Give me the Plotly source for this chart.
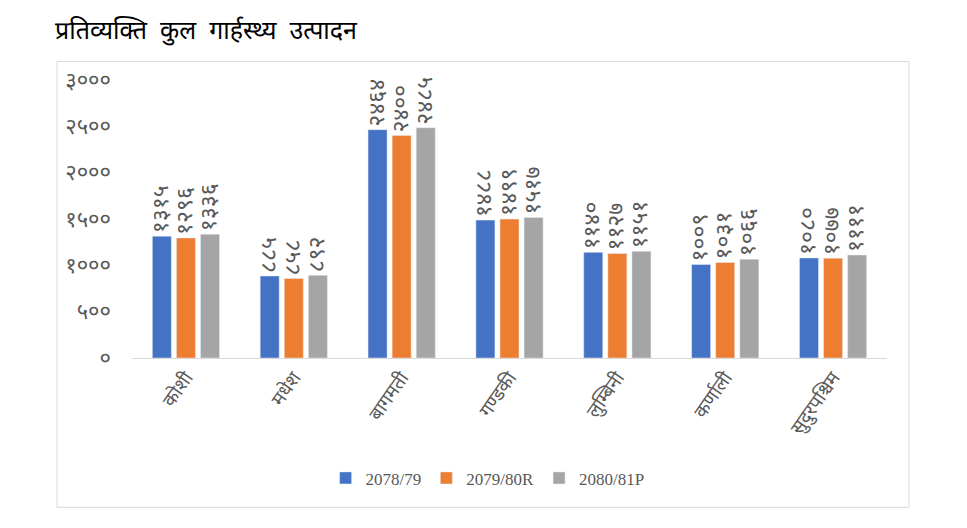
import plotly.graph_objects as go

# प्रदेश
provinces = ['कोशी', 'मधेश', 'बागमती', 'गण्डकी', 'लुम्बिनी', 'कर्णाली', 'सुदुरपश्चिम']

# per capita GDP by year
y_2078 = [1315, 885, 2464, 1488, 1140, 1009, 1080]
y_2079 = [1296, 858, 2400, 1499, 1127, 1031, 1077]
y_2080 = [1336, 892, 2485, 1517, 1151, 1066, 1111]

series_names = ['2078/79', '2079/80R', '2080/81P']
colors = ['#4472C4', '#ED7D31', '#A5A5A5']

tick_vals = [0, 500, 1000, 1500, 2000, 2500, 3000]
tick_text = ['०', '५००', '१०००', '१५००', '२०००', '२५००', '३०००']

NP_DIGITS = str.maketrans('0123456789', '०१२३४५६७८९')


def np_num(v):
    return str(v).translate(NP_DIGITS)


DEV_FONT = 'Noto Sans Devanagari, Noto Sans, sans-serif'

fig = go.Figure()
for name, vals, c in zip(series_names, [y_2078, y_2079, y_2080], colors):
    fig.add_trace(go.Bar(
        x=provinces, y=vals, name=name,
        marker_color=c,
        text=[np_num(v) for v in vals],
        textposition='outside',
        textangle=-90,
        constraintext='none',
        textfont=dict(family=DEV_FONT, size=23, color='#595959'),
        cliponaxis=False,
        hoverinfo='skip',
    ))

# the page body adds 8px margin, so the figure is a bit smaller than the window
fig.update_layout(
    width=959, height=520,
    margin=dict(l=124, r=80, t=72, b=170),
    paper_bgcolor='white', plot_bgcolor='white',
    barmode='group', bargap=0.33, bargroupgap=0.21,
    title=dict(text='प्रतिव्यक्ति  कुल  गार्हस्थ्य  उत्पादन',
               x=0.049, xanchor='left', y=0.958, yanchor='middle',
               font=dict(family=DEV_FONT, size=25, color='black')),
    showlegend=True,
    legend=dict(orientation='h', x=0.471, xanchor='center', y=-0.433, yanchor='middle',
                font=dict(family='Liberation Serif', size=17, color='#595959'),
                itemwidth=30, traceorder='normal'),
    shapes=[dict(type='rect', xref='paper', yref='paper',
                 x0=-0.0993, x1=1.0291, y0=-0.537, y1=1.0667,
                 line=dict(color='#D9D9D9', width=1), layer='below')],
)
fig.update_xaxes(showline=True, linecolor='#D9D9D9', ticks='', tickangle=-55,
                 tickfont=dict(family=DEV_FONT, size=19, color='#595959'))
fig.update_yaxes(range=[0, 3000], tickvals=tick_vals, ticktext=tick_text,
                 showgrid=False, zeroline=False, ticklabelstandoff=20,
                 tickfont=dict(family=DEV_FONT, size=22, color='#595959'))

fig.write_html('out.html')
